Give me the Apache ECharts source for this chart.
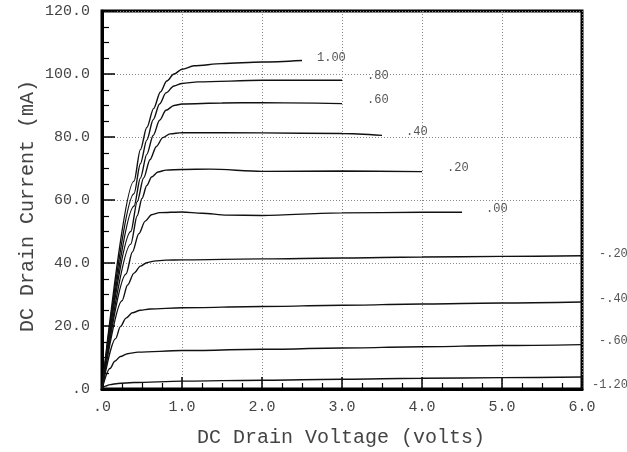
<!DOCTYPE html>
<html>
<head>
<meta charset="utf-8">
<script src="https://cdn.jsdelivr.net/npm/echarts@6/dist/echarts.min.js"></script>
<style>html,body{margin:0;padding:0;background:#fff}#c{width:627px;height:452px}</style>
</head>
<body>
<div id="c"></div>
<script>
// ---- data (Vds [V], Id [mA]) per gate voltage ----
const xTickLabels = ['.0','1.0','2.0','3.0','4.0','5.0','6.0'];
const yTickLabels = ['.0','20.0','40.0','60.0','80.0','100.0','120.0'];
const curveNames = ['1.00','.80','.60','.40','.20','.00','-.20','-.40','-.60','-1.20'];

const vg100 = [[0,0],[0.4,66],[0.48,76],[0.56,83],[0.645,89],[0.73,94.3],[0.81,97.8],[0.9,100],[1.0,101.5],[1.15,102.6],[1.5,103.3],[2.0,103.8],[2.5,104.3]];
const vg080 = [[0,0],[0.4,62],[0.48,71.5],[0.56,79],[0.64,85.5],[0.72,90.5],[0.8,94],[0.9,96.2],[1.0,97.0],[1.2,97.5],[2.0,98],[3.0,98]];
const vg060 = [[0,0],[0.4,58],[0.48,67],[0.56,74.5],[0.64,80.5],[0.72,85.3],[0.8,88.5],[0.9,90],[1.0,90.5],[1.5,90.8],[2.0,90.9],[3.0,90.6]];
const vg040 = [[0,0],[0.36,50],[0.44,59.5],[0.52,67],[0.6,72.8],[0.68,77],[0.76,79.8],[0.85,81],[1.0,81.4],[2.0,81.3],[3.0,81.1],[3.5,80.5]];
const vg020 = [[0,0],[0.36,46],[0.44,55],[0.5,60.5],[0.56,64.6],[0.62,67.3],[0.7,68.9],[0.8,69.5],[1.0,69.7],[1.35,69.8],[2.0,69.1],[3.0,69.2],[4.0,69.0]];
const vg000 = [[0,0],[0.3,36.5],[0.38,43.5],[0.46,49.3],[0.54,53.3],[0.62,55.3],[0.72,56.0],[1.0,56.2],[1.25,55.8],[1.56,55.2],[2.0,55.1],[3.0,55.9],[4.0,56.1],[4.5,56.1]];
const vgm020 = [[0,0],[0.25,28],[0.32,33],[0.4,36.8],[0.48,39],[0.56,40.1],[0.65,40.6],[0.8,40.9],[1.0,41.0],[2.0,41.3],[3.0,41.6],[4.0,41.9],[5.0,42.1],[6.0,42.3]];
const vgm040 = [[0,0],[0.17,16],[0.23,19.8],[0.3,22.5],[0.38,24.2],[0.48,25.0],[0.6,25.4],[1.0,25.8],[2.0,26.2],[3.0,26.6],[4.0,27.0],[5.0,27.3],[6.0,27.6]];
const vgm060 = [[0,0],[0.1,6.5],[0.16,8.8],[0.23,10.3],[0.32,11.2],[0.45,11.7],[1.0,12.2],[2.0,12.6],[3.0,13.0],[4.0,13.4],[5.0,13.8],[6.0,14.1]];
const vgm120 = [[0,0],[0.04,0.9],[0.1,1.4],[0.2,1.75],[0.4,2.05],[1.0,2.5],[2.0,2.8],[3.0,3.1],[4.0,3.4],[5.0,3.6],[6.0,3.8]];

const curveData = [vg100, vg080, vg060, vg040, vg020, vg000, vgm020, vgm040, vgm060, vgm120];

// ---- presentation ----
const FONT = "'Courier New', 'Liberation Mono', monospace";
const labelOffsets = [[15,-3],[25,-4],[25,-4],[24,-4],[25,-4],[24,-3],[17,-1.5],[17,-3.5],[17,-3.5],[10,8]];

const chart = echarts.init(document.getElementById('c'), null, {renderer:'canvas'});
const series = curveData.map((d, i) => ({
  type: 'line',
  name: curveNames[i],
  data: d,
  showSymbol: false,
  symbol: 'none',
  smooth: 0.3,
  smoothMonotone: 'x',
  lineStyle: {color: '#111', width: 1.4},
  z: 5,
  endLabel: {
    show: true,
    formatter: curveNames[i],
    distance: 0,
    offset: labelOffsets[i],
    color: '#555',
    fontSize: 12,
    fontFamily: FONT
  }
}));

chart.setOption({
  animation: false,
  backgroundColor: '#fff',
  grid: {left: 102, right: 45, top: 11, bottom: 63, show: true, borderColor: '#000', borderWidth: 3, backgroundColor: 'transparent'},
  xAxis: {
    type: 'value', min: 0, max: 6, interval: 1,
    axisLine: {show: true, lineStyle: {color: '#000', width: 3}},
    axisTick: {show: true, inside: true, length: 12, lineStyle: {color: '#000', width: 1.5}},
    minorTick: {show: true, splitNumber: 4, length: 6, lineStyle: {color: '#000', width: 1.2}},
    splitLine: {show: true, lineStyle: {color: '#888', width: 1, type: [1, 2]}},
    axisLabel: {margin: 11, color: '#444', fontSize: 15, fontFamily: FONT,
      formatter: (v) => xTickLabels[Math.round(v)]}
  },
  yAxis: {
    type: 'value', min: 0, max: 120, interval: 20,
    axisLine: {show: true, lineStyle: {color: '#000', width: 3}},
    axisTick: {show: true, inside: true, length: 13, lineStyle: {color: '#000', width: 1.5}},
    minorTick: {show: true, splitNumber: 4, length: 7, lineStyle: {color: '#000', width: 1.2}},
    splitLine: {show: true, lineStyle: {color: '#888', width: 1, type: [1, 2]}},
    axisLabel: {margin: 12, color: '#444', fontSize: 15, fontFamily: FONT,
      formatter: (v) => yTickLabels[Math.round(v / 20)]}
  },
  graphic: [
    {type: 'text', x: 28, y: 206, rotation: Math.PI / 2,
      style: {text: 'DC Drain Current (mA)', fill: '#444', font: '20px ' + FONT, textAlign: 'center', textVerticalAlign: 'middle'}},
    {type: 'text', x: 341, y: 438,
      style: {text: 'DC Drain Voltage (volts)', fill: '#444', font: '20px ' + FONT, textAlign: 'center', textVerticalAlign: 'middle'}}
  ],
  series: series
});
</script>
</body>
</html>
